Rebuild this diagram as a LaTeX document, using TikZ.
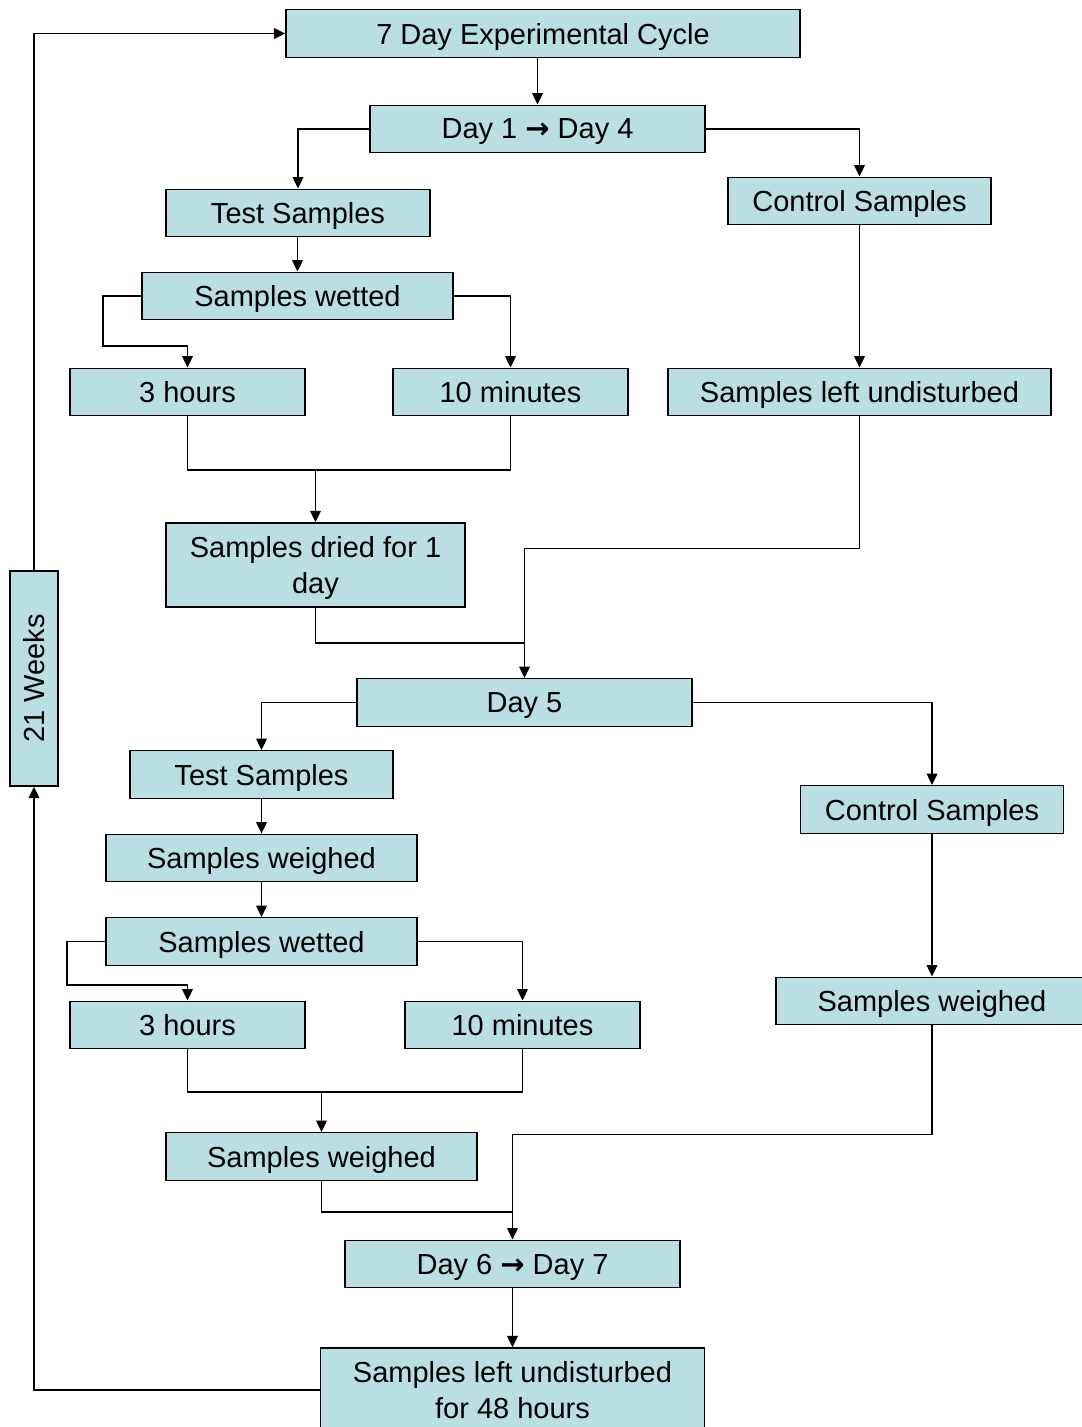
\documentclass[tikz,border=0pt]{standalone}
\usepackage{fontspec}
\setmainfont{Liberation Sans}
\newfontfamily\arrowfont{DejaVu Sans}
\usetikzlibrary{arrows.meta, positioning}
\definecolor{PaleTeal}{RGB}{185, 223, 227}

\tikzset{
    stage/.style={draw, fill=PaleTeal, line width=0.8pt, inner sep=0pt,
        minimum height=0.95cm, align=center, text depth=-3pt,
        font=\fontsize{16.5}{20}\selectfont},
    link/.style={line width=1pt}
}
\newcommand{\dayarrow}{{\arrowfont\bfseries →}}

\begin{document}
\begin{tikzpicture}[x=0.02cm, y=-0.02cm, >={Triangle[length=6.5pt,width=6pt]}]
    \useasboundingbox (0,0) rectangle (1082,1427);

    % Ciclo y dias 1 a 4
    \node[stage, minimum width=10.28cm] (cycle) at (543,33.5) {7 Day Experimental Cycle};
    \node[stage, minimum width=6.70cm] (dayA) at (537.5,129) {Day 1 \dayarrow{} Day 4};
    \node[stage, minimum width=5.28cm] (testA) at (298,213) {Test Samples};
    \node[stage, minimum width=5.26cm] (ctrlA) at (859.5,201) {Control Samples};
    \node[stage, minimum width=6.22cm] (wetA) at (297.5,296) {Samples wetted};
    \node[stage, minimum width=4.70cm] (hrsA) at (187.5,392) {3 hours};
    \node[stage, minimum width=4.70cm] (minA) at (510.5,392) {10 minutes};
    \node[stage, minimum width=7.66cm] (leftA) at (859.5,392) {Samples left undisturbed};
    \node[stage, minimum width=5.98cm, minimum height=1.68cm] (dried) at (315.5,565) {Samples dried for 1\\day};

    % Dia 5
    \node[stage, minimum width=6.70cm] (dayB) at (524.5,702.5) {Day 5};
    \node[stage, minimum width=5.26cm] (testB) at (261.5,774.5) {Test Samples};
    \node[stage, minimum width=5.26cm] (ctrlB) at (932,809.5) {Control Samples};
    \node[stage, minimum width=6.22cm] (weighB) at (261.5,858) {Samples weighed};
    \node[stage, minimum width=6.22cm] (wetB) at (261.5,941.5) {Samples wetted};
    \node[stage, minimum width=4.70cm] (hrsB) at (187.5,1025) {3 hours};
    \node[stage, minimum width=4.70cm] (minB) at (522.5,1025) {10 minutes};
    \node[stage, minimum width=6.24cm] (weighC) at (932,1001) {Samples weighed};
    \node[stage, minimum width=6.22cm] (weighD) at (321.5,1156.5) {Samples weighed};

    % Dias 6 y 7
    \node[stage, minimum width=6.70cm] (dayC) at (512.5,1264) {Day 6 \dayarrow{} Day 7};
    \node[stage, minimum width=7.68cm, minimum height=1.68cm] (leftB) at (512.5,1390) {Samples left undisturbed\\for 48 hours};
    \node[stage, minimum width=0.96cm, minimum height=4.30cm] (weeks) at (34,678.5) {\rotatebox{90}{21 Weeks}};

    \coordinate (joinA) at (315.5,470);
    \coordinate (mergeA) at (524.5,643);
    \coordinate (joinB) at (321.5,1092);
    \coordinate (mergeB) at (512.5,1212);

    % Conectores
    \draw[->, link] (cycle.south -| dayA.north) -- (dayA.north);
    \draw[->, link] (dayA.west) -| (testA.north);
    \draw[->, link] (dayA.east) -| (ctrlA.north);
    \draw[->, link] (testA.south -| wetA.north) -- (wetA.north);
    \draw[->, link] (wetA.west) -- ++(-38,0) -- ++(0,50) -| (hrsA.north);
    \draw[->, link] (wetA.east) -| (minA.north);
    \draw[->, link] (ctrlA) -- (leftA);
    \draw[link] (hrsA.south) |- (joinA) -| (minA.south);
    \draw[->, link] (joinA) -- (dried.north);
    \draw[->, link] (leftA.south) -- ++(0,132) -| (dayB.north);
    \draw[link] (dried.south) |- (mergeA);

    \draw[->, link] (dayB.west) -| (testB.north);
    \draw[->, link] (dayB.east) -| (ctrlB.north);
    \draw[->, link] (testB) -- (weighB);
    \draw[->, link] (weighB) -- (wetB);
    \draw[->, link] (wetB.west) -- ++(-38,0) -- ++(0,43.5) -| (hrsB.north);
    \draw[->, link] (wetB.east) -| (minB.north);
    \draw[->, link] (ctrlB) -- (weighC);
    \draw[link] (hrsB.south) |- (joinB) -| (minB.south);
    \draw[->, link] (joinB) -- (weighD.north);
    \draw[->, link] (weighC.south) -- ++(0,109) -| (dayC.north);
    \draw[link] (weighD.south) |- (mergeB);

    \draw[->, link] (dayC) -- (leftB);
    \draw[->, link] (leftB.west) -| (weeks.south);
    \draw[->, link] (weeks.north) |- (cycle.west);
\end{tikzpicture}
\end{document}
